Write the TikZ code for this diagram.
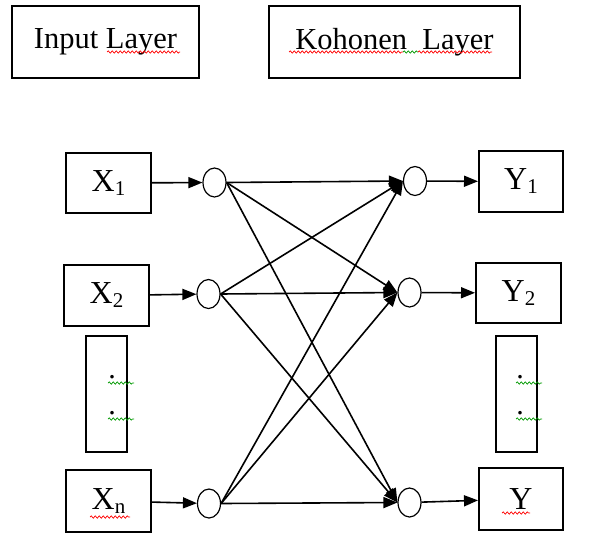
\documentclass[tikz,border=0pt]{standalone}
\usepackage{fontspec}
\setmainfont{Liberation Serif}
\usetikzlibrary{shapes.geometric,arrows.meta,decorations.pathmorphing}
\newcommand{\mysubs}[1]{\raisebox{-4pt}{\fontsize{21}{21}\selectfont #1}}
\begin{document}
\begin{tikzpicture}[x=1pt,y=-1pt,
  box/.style={draw,line width=2pt,inner sep=0pt,font=\fontsize{32}{36}\selectfont},
  header/.style={box,minimum height=72pt,font=\fontsize{30.5}{36}\selectfont},
  neuron/.style={draw,ellipse,line width=1.2pt,minimum width=23pt,minimum height=29pt,inner sep=0pt},
  link/.style={line width=1.6pt,-{Triangle[length=14pt,width=11pt]}},
  dotmark/.style={anchor=base,inner sep=0pt,font=\fontsize{30}{36}\selectfont},
  spellred/.style={draw=red,line width=0.7pt,decorate,decoration={snake,segment length=4pt,amplitude=1.2pt}},
  spellgreen/.style={spellred,draw=green!60!black}]
\useasboundingbox (0,0) rectangle (593,533);

% headers
\node[header,minimum width=187pt] (inl) at (105.5,42) {Input Layer};
\node[header,minimum width=251pt] (kol) at (394.5,42) {Kohonen\ \ Layer};
\draw[spellred] (107,52) -- (180,52);
\draw[spellred] (289,52) -- (403,52);
\draw[spellgreen] (403,52) -- (418,52);
\draw[spellred] (418,52) -- (492,52);

% input boxes
\node[box,minimum width=85pt,minimum height=60pt] (x1) at (108.5,183) {X\mysubs{1}};
\node[box,minimum width=85pt,minimum height=61pt] (x2) at (106.5,295.5) {X\mysubs{2}};
\node[box,minimum width=41pt,minimum height=116pt] (ld) at (106.5,394) {};
\node[box,minimum width=85pt,minimum height=62pt] (xn) at (108.5,501) {X\mysubs{n}};
\node[dotmark] (ld1) at (112,378.5) {.};
\node[dotmark] (ld2) at (112,414.5) {.};
\draw[spellgreen] (108,383) -- (134,383);
\draw[spellgreen] (108,419) -- (134,419);
\draw[spellred] (90,517) -- (130,517);

% input neurons
\node[neuron] (c1) at (214.5,182.5) {};
\node[neuron] (c2) at (208.5,294) {};
\node[neuron] (cn) at (209,503.5) {};

% kohonen neurons
\node[neuron] (k1) at (415,181) {};
\node[neuron] (k2) at (409.5,292.5) {};
\node[neuron] (k3) at (409.5,502.5) {};

% output boxes
\node[box,minimum width=84pt,minimum height=61pt] (y1) at (521,181.5) {Y\mysubs{1}};
\node[box,minimum width=85pt,minimum height=60pt] (y2) at (518.5,293) {Y\mysubs{2}};
\node[box,minimum width=41pt,minimum height=116pt] (rd) at (516.5,394) {};
\node[box,minimum width=84pt,minimum height=62pt] (y3) at (521,499) {Y};
\node[dotmark] (rd1) at (520,378.5) {.};
\node[dotmark] (rd2) at (520,414.5) {.};
\draw[spellgreen] (516,383) -- (542,383);
\draw[spellgreen] (516,419) -- (542,419);
\draw[spellred] (502,513) -- (530,513);

% connections
\draw[link] (x1) -- (c1);
\draw[link] (x2) -- (c2);
\draw[link] (xn) -- (cn);
\foreach \s in {c1,c2,cn}
  \foreach \t in {k1,k2,k3}
    \draw[link] (\s.east) -- (\t.west);
\draw[link] (k1) -- (y1);
\draw[link] (k2) -- (y2);
\draw[link] (k3) -- (y3);
\end{tikzpicture}
\end{document}
